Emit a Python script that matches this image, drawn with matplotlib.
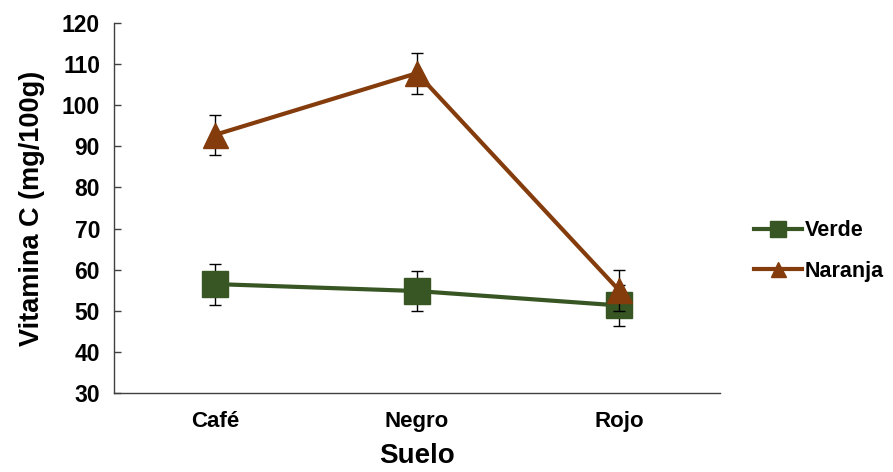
import matplotlib
matplotlib.use("Agg")
import matplotlib.pyplot as plt

categories = ["Café", "Negro", "Rojo"]
verde = [56.5, 54.8, 51.3]
verde_err = [5.0, 4.9, 5.0]
naranja = [92.8, 107.8, 55.0]
naranja_err = [4.8, 5.0, 5.0]
yticks = [30, 40, 50, 60, 70, 80, 90, 100, 110, 120]

plt.rcParams['font.family'] = ['Liberation Sans', 'DejaVu Sans']
plt.rcParams['font.weight'] = 'bold'

fig = plt.figure(figsize=(8.93, 4.72), dpi=100)
ax = fig.add_axes([114/893, 1-393/472, (720-114)/893, (393-23)/472])

x = list(range(len(categories)))
green = '#375623'
brown = '#843C0C'

ax.errorbar(x, verde, yerr=verde_err, fmt='none', ecolor='black', elinewidth=1, capsize=4.2, capthick=1, zorder=2)
ax.plot(x, verde, color=green, lw=3, marker='s', markersize=19, markeredgecolor=green, label='Verde', zorder=3)
ax.errorbar(x, naranja, yerr=naranja_err, fmt='none', ecolor='black', elinewidth=1, capsize=4.2, capthick=1, zorder=4)
ax.plot(x, naranja, color=brown, lw=3, marker='^', markersize=18, markeredgecolor=brown, label='Naranja', zorder=5)

ax.set_xlim(-0.5, 2.5)
ax.set_ylim(30, 120)
ax.set_yticks(yticks)
ax.set_xticks(x)
ax.set_xticklabels(categories, fontsize=16, fontweight='bold')
ax.tick_params(axis='x', length=0, pad=13)
ax.tick_params(axis='y', direction='in', length=5, width=1, color='#404040', labelsize=16.5, pad=10)
for lab in ax.get_yticklabels():
    lab.set_fontweight('bold')

for s in ['top', 'right']:
    ax.spines[s].set_visible(False)
for s in ['left', 'bottom']:
    ax.spines[s].set_color('#404040')
    ax.spines[s].set_linewidth(1)

ax.set_xlabel('Suelo', fontsize=20, fontweight='bold', labelpad=8)
ax.set_ylabel('Vitamina C (mg/100g)', fontsize=19.5, fontweight='bold', labelpad=12)

leg = fig.legend(loc='center left', bbox_to_anchor=(735/893, 1-251/472), frameon=False,
                 prop={'size': 15.5, 'weight': 'bold'}, handlelength=2.2, handletextpad=0.15,
                 labelspacing=0.9, markerscale=0.6)

fig.savefig('out.png', dpi=100)
